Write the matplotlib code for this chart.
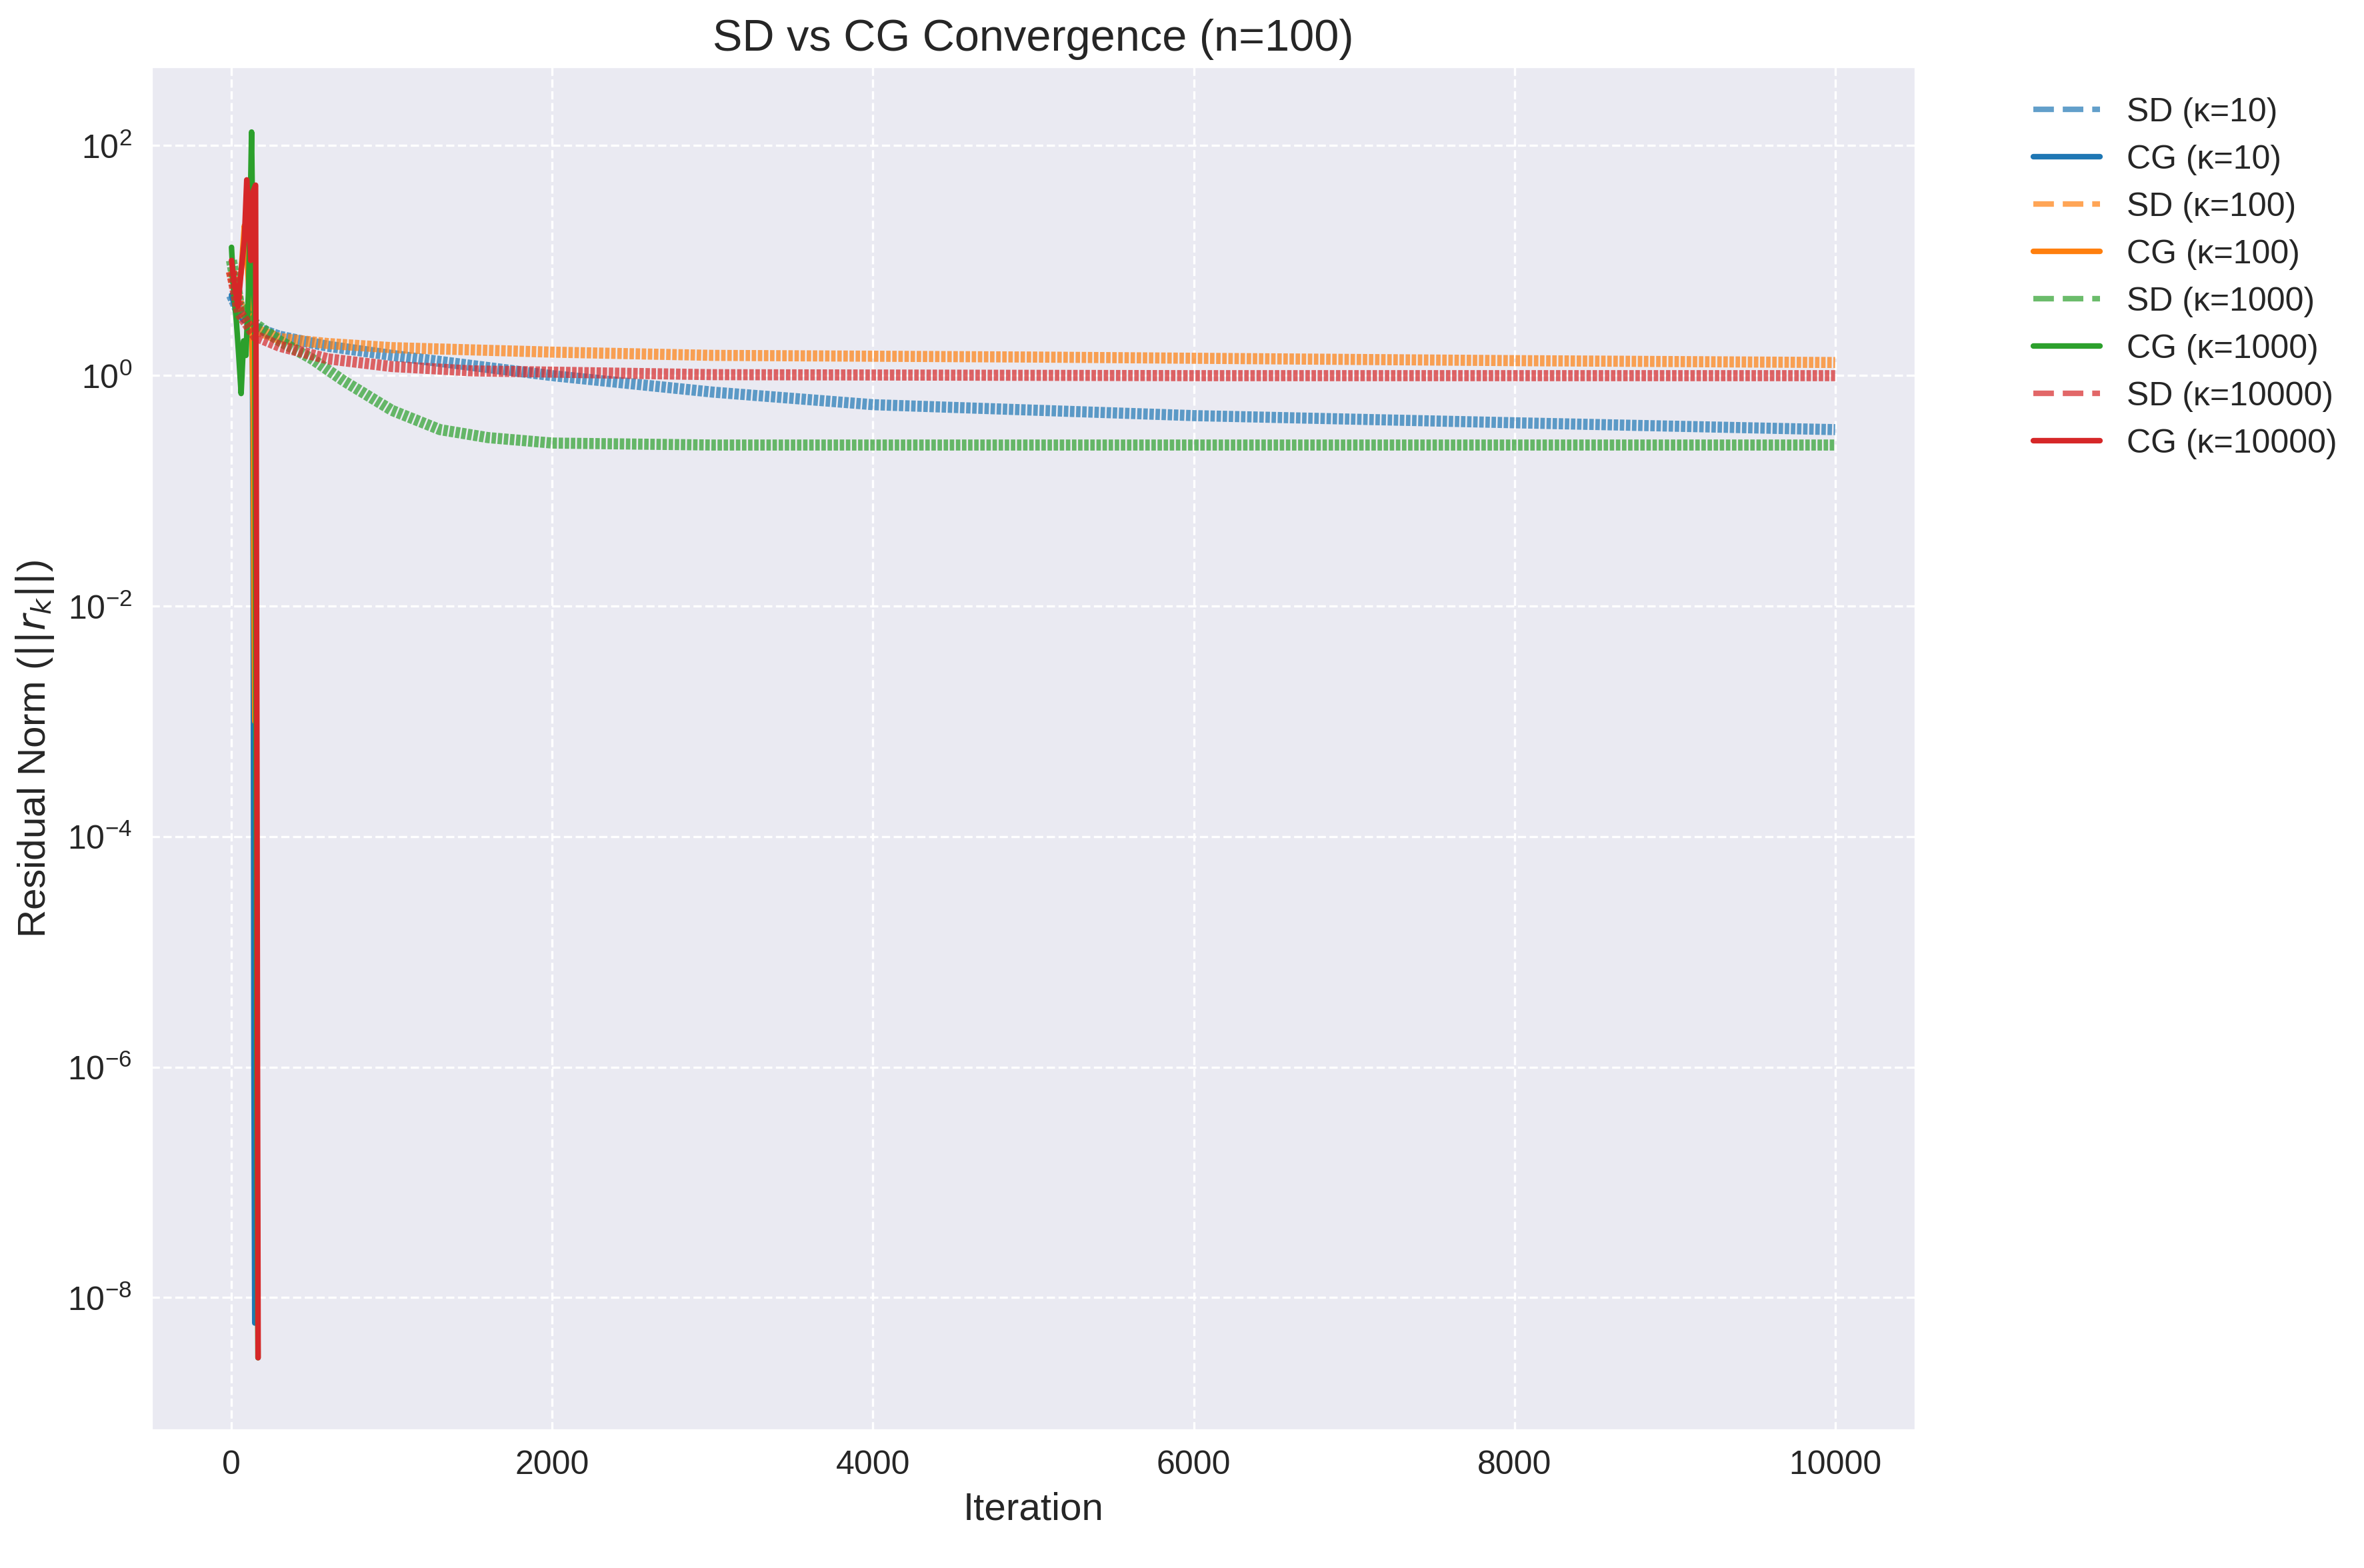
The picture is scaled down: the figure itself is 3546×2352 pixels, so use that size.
import matplotlib
matplotlib.use("Agg")
import matplotlib.pyplot as plt
import seaborn as sns

sns.set_style("darkgrid", {"grid.linestyle": "--"})
plt.rcParams['font.family'] = ['Arial', 'Liberation Sans', 'DejaVu Sans']

kappas = [10, 100, 1000, 10000]
colors = ['#1f77b4', '#ff7f0e', '#2ca02c', '#d62728']

# steepest descent residuals (sparse readings)
sd_iter = {
    10:    [0, 50, 150, 300, 600, 1000, 2000, 3000, 4000, 6000, 8000, 10000],
    100:   [0, 50, 150, 300, 600, 1000, 2000, 3000, 5000, 8000, 10000],
    1000:  [0, 50, 150, 300, 500, 700, 1000, 1300, 1600, 2000, 3000, 10000],
    10000: [0, 50, 150, 300, 600, 1000, 1500, 3000, 6000, 10000],
}
sd_res = {
    10:    [5.0, 3.5, 2.6, 2.2, 1.8, 1.5, 1.0, 0.72, 0.56, 0.45, 0.39, 0.34],
    100:   [8.0, 4.0, 2.5, 2.1, 1.9, 1.75, 1.6, 1.5, 1.45, 1.35, 1.3],
    1000:  [10.0, 4.0, 2.8, 2.0, 1.4, 0.9, 0.5, 0.34, 0.29, 0.26, 0.25, 0.25],
    10000: [8.0, 3.5, 2.2, 1.8, 1.4, 1.2, 1.1, 1.02, 1.0, 1.0],
}

# conjugate gradient residuals
cg_iter = {
    10:    [0, 20, 40, 60, 80, 100, 120, 130, 135, 140, 145],
    100:   [0, 20, 40, 60, 80, 95, 110, 125, 135, 140, 145],
    1000:  [0, 15, 30, 45, 60, 75, 90, 105, 115, 125, 135, 145, 155, 160, 165],
    10000: [0, 20, 40, 60, 80, 95, 105, 120, 135, 150, 158, 162, 166],
}
cg_res = {
    10:    [5.0, 4.0, 3.5, 3.2, 3.0, 3.5, 3.0, 2.5, 0.02, 1e-6, 6e-9],
    100:   [8.0, 6.0, 5.0, 8.0, 20.0, 12.0, 5.0, 3.0, 0.5, 1e-2, 1e-3],
    1000:  [13.0, 5.0, 3.0, 1.5, 0.7, 2.0, 1.5, 5.0, 20.0, 130.0, 8.0, 3.0, 1e-4, 1e-7, 3e-9],
    10000: [10.0, 6.0, 4.0, 8.0, 15.0, 50.0, 30.0, 10.0, 40.0, 45.0, 1e-3, 1e-6, 3e-9],
}

fig, ax = plt.subplots(figsize=(11.823, 7.843))
for k, c in zip(kappas, colors):
    ax.plot(sd_iter[k], sd_res[k], '--', color=c, alpha=0.7, lw=4,
            dashes=(0.4, 0.15), label=f'SD (κ={k})')
    ax.plot(cg_iter[k], cg_res[k], '-', color=c, lw=2, label=f'CG (κ={k})')

ax.set_yscale('log')
ax.set_ylim(10**-9.15, 10**2.68)
ax.set_xlim(-500, 10500)
ax.set_title('SD vs CG Convergence (n=100)', fontsize=16)
ax.set_xlabel('Iteration', fontsize=14)
ax.set_ylabel(r'Residual Norm ($||r_k||$)', fontsize=14)
ax.tick_params(labelsize=12)
leg = ax.legend(bbox_to_anchor=(1.05, 1), loc='upper left', fontsize=12, frameon=False)
for h in leg.get_lines():
    h.set_linewidth(2)
    h.set_dashes((3.7, 1.6)) if h.get_linestyle() != '-' else None
fig.subplots_adjust(left=0.064, right=0.81, top=0.957, bottom=0.088)
fig.savefig('out.png', dpi=300)
